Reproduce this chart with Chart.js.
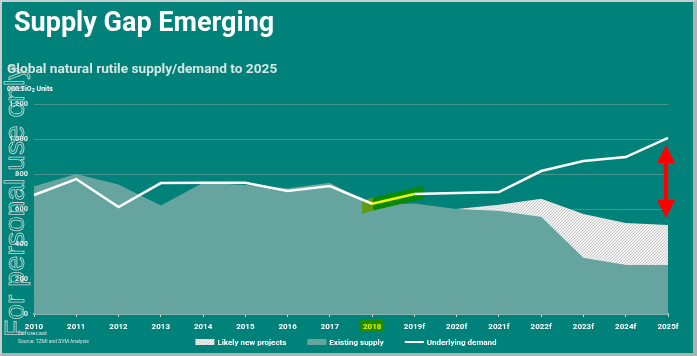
<!DOCTYPE html>
<html><head><meta charset="utf-8">
<script src="https://cdn.jsdelivr.net/npm/chart.js@4/dist/chart.umd.min.js"></script>
<style>
html,body{margin:0;padding:0;background:#00827b;}
#frame{position:relative;width:697px;height:356px;overflow:hidden;background:#00827b;}
#c{position:absolute;left:0;top:0;}
.txt{position:absolute;white-space:nowrap;line-height:1;}
#title{left:14px;top:6px;font:bold 27px Roboto, "Open Sans", sans-serif;color:#ffffff;}
#subtitle{left:7px;top:60px;font:bold 13.7px Roboto, "Open Sans", sans-serif;color:#d6e4e2;}
#units{left:7px;top:85px;font:bold 7px Roboto, sans-serif;color:#ffffff;}
#units sub{font-size:5.5px;vertical-align:-1px;line-height:0;}
#fnote{left:18px;top:329px;font:6px Roboto, sans-serif;color:#d6e6e4;}
#source{left:18px;top:338px;font:5px Roboto, sans-serif;color:#d6e6e4;}
#wm{left:-1px;top:337px;transform-origin:left top;transform:rotate(-90deg);font:28px "Liberation Sans", Arial, sans-serif;letter-spacing:0.1px;color:transparent;-webkit-text-stroke:0.8px #cfd9d7;}
#border{position:absolute;left:0;top:0;width:697px;height:356px;box-sizing:border-box;border-left:2px solid #c8cecd;border-top:2px solid #c8cecd;border-right:4px solid #a9b3b2;border-bottom:3px solid #a9b3b2;pointer-events:none;}
</style></head>
<body>
<div id="frame">
<canvas id="c" width="697" height="356"></canvas>
<div class="txt" id="title">Supply Gap Emerging</div>
<div class="txt" id="subtitle">Global natural rutile supply/demand to 2025</div>
<div class="txt" id="units">000 TiO<sub>2</sub> Units</div>
<div class="txt" id="fnote">f= forecast</div>
<div class="txt" id="source">Source: TZMI and SVM Analysis</div>
<div class="txt" id="wm">For personal use only</div>
<div id="border"></div>
</div>
<script>
// ---- data ----
const categories = ['2010','2011','2012','2013','2014','2015','2016','2017','2018','2019f','2020f','2021f','2022f','2023f','2024f','2025f'];
const existingSupply = [730, 800, 740, 620, 750, 737, 718, 750, 625, 632, 600, 588, 555, 320, 280, 280];
const likelyNewProjects = [0, 0, 0, 0, 0, 0, 0, 0, 0, 0, 0, 36, 103, 251, 240, 229];
const underlyingDemand = [680, 771, 611, 748, 750, 750, 703, 731, 630, 686, 691, 697, 817, 874, 897, 1006];
const yTicks = [0, 200, 400, 600, 800, 1000, 1200];
const highlightYear = '2018';
const gapArrowRange = [966, 549];
const seriesNames = ['Likely new projects', 'Existing supply', 'Underlying demand'];

const totalSupply = existingSupply.map((v, i) => v + likelyNewProjects[i]);
const highlightIndex = categories.indexOf(highlightYear);

const canvas = document.getElementById('c');
const ctx0 = canvas.getContext('2d');
function makeHatch() {
  const c = document.createElement('canvas');
  c.width = 3; c.height = 3;
  const g = c.getContext('2d');
  g.fillStyle = '#f2f2f2'; g.fillRect(0, 0, 3, 3);
  g.fillStyle = '#c6c6c6';
  g.fillRect(2, 0, 1, 1); g.fillRect(1, 1, 1, 1); g.fillRect(0, 2, 1, 1);
  return ctx0.createPattern(c, 'repeat');
}
const hatch = makeHatch();
const AREA = '#66a49f';
const FONT = 'Roboto, "Open Sans", sans-serif';

const highlightPlugin = {
  id: 'highlights',
  beforeDraw(chart) {
    const x = chart.scales.x, c = chart.ctx;
    const px = x.getPixelForTick(highlightIndex);
    c.save();
    c.fillStyle = '#1e8c00';
    c.fillRect(px - 12, 319, 24, 12);
    c.restore();
  },
  beforeDatasetDraw(chart, args) {
    if (args.index !== 2) return;
    const pts = chart.getDatasetMeta(2).data;
    const a = pts[highlightIndex], b = pts[highlightIndex + 1];
    const slope = (b.y - a.y) / (b.x - a.x);
    const yAt = x => a.y + slope * (x - a.x);
    const c = chart.ctx;
    c.save();
    const x0 = a.x - 10, x1 = a.x + 1, x2 = b.x + 9;
    c.fillStyle = '#5f9c12';
    c.beginPath();
    c.moveTo(x0, yAt(x0) - 5); c.lineTo(x1, yAt(x1) - 6); c.lineTo(x1, yAt(x1) + 7); c.lineTo(x0, yAt(x0) + 8);
    c.closePath(); c.fill();
    c.fillStyle = '#078a06';
    c.beginPath();
    c.moveTo(x1, yAt(x1) - 6); c.lineTo(x2, yAt(x2) - 6); c.lineTo(x2, yAt(x2) + 7); c.lineTo(x1, yAt(x1) + 7);
    c.closePath(); c.fill();
    c.restore();
  },
  afterDatasetsDraw(chart) {
    const x = chart.scales.x, y = chart.scales.y, c = chart.ctx;
    const ax = x.getPixelForValue(categories.length - 1) - 2;
    const yt = y.getPixelForValue(gapArrowRange[0]);
    const yb = y.getPixelForValue(gapArrowRange[1]);
    const hw = 9, hl = 18, sw = 2.2;
    c.save();
    c.fillStyle = '#ff0000';
    c.beginPath();
    c.moveTo(ax, yt);
    c.lineTo(ax + hw, yt + hl);
    c.lineTo(ax + sw, yt + hl);
    c.lineTo(ax + sw, yb - hl);
    c.lineTo(ax + hw, yb - hl);
    c.lineTo(ax, yb);
    c.lineTo(ax - hw, yb - hl);
    c.lineTo(ax - sw, yb - hl);
    c.lineTo(ax - sw, yt + hl);
    c.lineTo(ax - hw, yt + hl);
    c.closePath(); c.fill();
    c.restore();
  },
  afterDraw(chart) {
    // legend
    const c = chart.ctx;
    c.save();
    c.font = 'bold 8px ' + FONT;
    c.textBaseline = 'middle';
    const boxW = 19, gapT = 3, gapI = 21, cy = 342;
    const widths = seriesNames.map(s => c.measureText(s).width);
    const total = widths.reduce((s, w) => s + w + boxW + gapT, 0) + gapI * 2;
    let x = 346 - total / 2;
    seriesNames.forEach((name, i) => {
      if (i === 0) { c.fillStyle = hatch; c.fillRect(x, cy - 3, boxW, 6); }
      else if (i === 1) { c.fillStyle = AREA; c.fillRect(x, cy - 3, boxW, 6); }
      else { c.strokeStyle = '#ffffff'; c.lineWidth = 2; c.beginPath(); c.moveTo(x, cy); c.lineTo(x + boxW, cy); c.stroke(); }
      x += boxW + gapT;
      c.fillStyle = '#ffffff';
      c.fillText(name, x, cy + 0.5);
      x += widths[i] + gapI;
    });
    c.restore();
  }
};

new Chart(canvas, {
  type: 'line',
  data: {
    labels: categories,
    datasets: [
      { label: seriesNames[1], data: existingSupply, fill: 'origin', backgroundColor: AREA, borderWidth: 0, pointRadius: 0, order: 2, tension: 0 },
      { label: seriesNames[0], data: totalSupply, fill: '-1', backgroundColor: hatch, borderWidth: 0, pointRadius: 0, order: 1, tension: 0 },
      { label: seriesNames[2], data: underlyingDemand, fill: false, borderColor: '#ffffff', borderWidth: 2.5, pointRadius: 0, order: 0, tension: 0,
        segment: { borderColor: s => s.p0DataIndex === highlightIndex ? '#f2f500' : '#ffffff' } }
    ]
  },
  options: {
    responsive: false,
    animation: false,
    devicePixelRatio: 1,
    layout: { padding: { left: 0, right: 29, top: 104, bottom: 0 } },
    plugins: { legend: { display: false }, tooltip: { enabled: false } },
    scales: {
      x: {
        type: 'category', offset: false,
        grid: { drawOnChartArea: false, drawTicks: true, tickLength: 3, tickColor: '#c5d6d4', tickWidth: 1 },
        border: { display: true, color: '#c5d6d4', width: 1.5 },
        ticks: { color: s => s.index === highlightIndex ? '#e6f200' : '#ffffff', font: { family: FONT, weight: 'bold', size: 8 }, padding: 5, maxRotation: 0, autoSkip: false },
        afterFit: s => { s.height = 42; }
      },
      y: {
        min: 0, max: 1200,
        afterBuildTicks: s => { s.ticks = yTicks.map(v => ({ value: v })); },
        ticks: { callback: v => v.toLocaleString('en-US'), color: '#e3eeed', font: { family: FONT, weight: 'bold', size: 7.5 }, padding: 6 },
        grid: { color: 'rgba(120,160,157,0.6)', drawTicks: false, lineWidth: 1 },
        border: { display: false },
        afterFit: s => { s.width = 34; }
      }
    }
  },
  plugins: [highlightPlugin]
});
</script>
</body></html>
